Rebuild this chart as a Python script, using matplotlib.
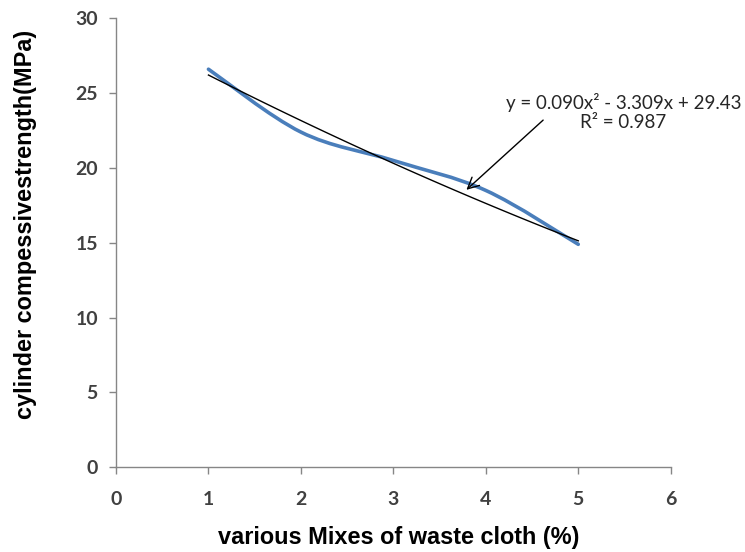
import numpy as np
import matplotlib.pyplot as plt
from matplotlib.path import Path
from matplotlib.patches import PathPatch

# data
mixes = [1, 2, 3, 4, 5]
strength = [26.6, 22.4, 20.5, 18.5, 14.9]
trend_coef = [0.090, -3.309, 29.43]
eq_text = "y = 0.090x² - 3.309x + 29.43\nR² = 0.987"

fig = plt.figure(figsize=(7.45, 5.52), dpi=100)
ax = fig.add_axes([0.1557, 0.1534, 0.7446, 0.8134])

# smoothed line like excel (catmull-rom -> cubic bezier)
xs = np.array(mixes, dtype=float)
ys = np.array(strength, dtype=float)
px = np.concatenate([[xs[0]], xs, [xs[-1]]])
py = np.concatenate([[ys[0]], ys, [ys[-1]]])
verts = [(xs[0], ys[0])]
codes = [Path.MOVETO]
t = 1 / 6
for i in range(1, len(px) - 2):
    c1 = (px[i] + (px[i + 1] - px[i - 1]) * t, py[i] + (py[i + 1] - py[i - 1]) * t)
    c2 = (px[i + 1] - (px[i + 2] - px[i]) * t, py[i + 1] - (py[i + 2] - py[i]) * t)
    verts += [c1, c2, (px[i + 1], py[i + 1])]
    codes += [Path.CURVE4] * 3
ax.add_patch(PathPatch(Path(verts, codes), fill=False, edgecolor="#4a7ebb",
                       lw=2.6, capstyle="round", zorder=2))

# polynomial trendline
xt = np.linspace(mixes[0], mixes[-1], 100)
ax.plot(xt, np.polyval(trend_coef, xt), color="black", lw=1.0, zorder=3)

# equation label + arrow
ax.text(5.49, 23.75, eq_text, ha="center", va="center", fontsize=13.5,
        family="Lato", color="#262626", linespacing=1.1, clip_on=False)
ax.annotate("", xy=(3.79, 18.54), xytext=(4.62, 23.2), annotation_clip=False,
            arrowprops=dict(arrowstyle="->", color="black", lw=1.0,
                            shrinkA=0, shrinkB=0, mutation_scale=20))

ax.set_xlim(0, 6)
ax.set_ylim(0, 30)
ax.set_xticks(range(0, 7))
ax.set_yticks(range(0, 31, 5))
for s in ["top", "right"]:
    ax.spines[s].set_visible(False)
for s in ["left", "bottom"]:
    ax.spines[s].set_color("#868686")
    ax.spines[s].set_linewidth(1.0)
ax.tick_params(colors="#868686", length=5, width=1.0, labelsize=14,
               labelcolor="#404040")
ax.tick_params(axis="x", pad=12)
ax.tick_params(axis="y", pad=8)
for lab in ax.get_xticklabels() + ax.get_yticklabels():
    lab.set_family("Lato")
    lab.set_fontweight("bold")

ax.set_xlabel("various Mixes of waste cloth (%)", fontsize=16.9,
              fontweight="bold", family="Liberation Sans")
ax.set_ylabel("cylinder compessivestrength(MPa)", fontsize=16.9,
              fontweight="bold", family="Liberation Sans")
ax.xaxis.set_label_coords(0.51, -0.13)
ax.yaxis.set_label_coords(-0.142, 0.542)

fig.savefig("out.png", dpi=100)
